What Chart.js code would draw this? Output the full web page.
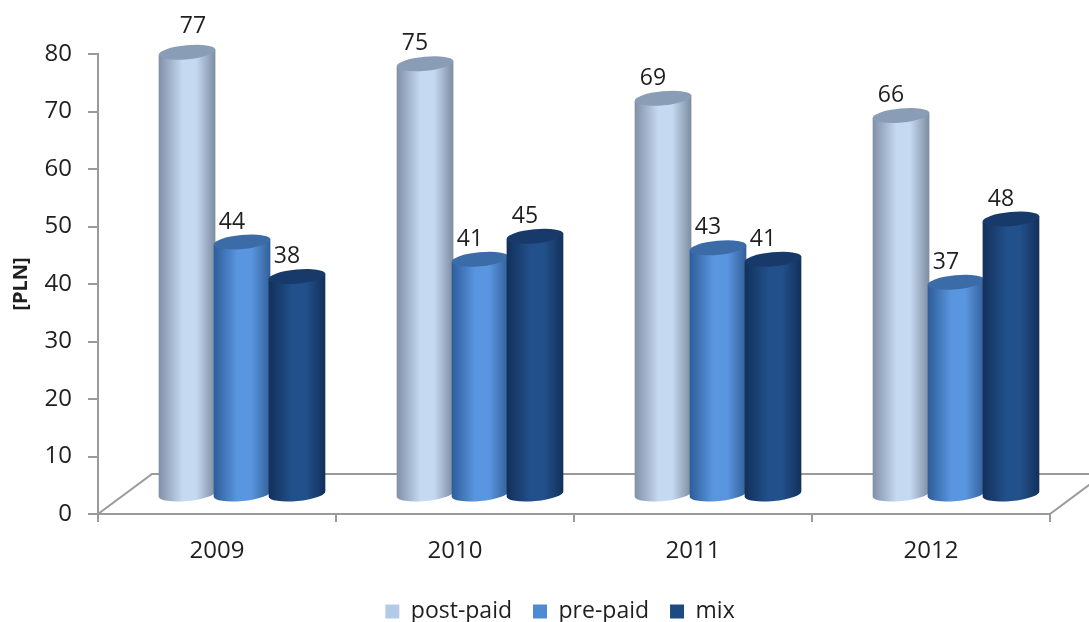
<!DOCTYPE html>
<html>
<head>
<meta charset="utf-8">
<style>html,body{margin:0;padding:0;background:#fff}canvas{display:block}</style>
<script src="https://cdn.jsdelivr.net/npm/chart.js@4"></script>
</head>
<body>
<canvas id="c" width="1089" height="622"></canvas>
<script>
const categories = ["2009", "2010", "2011", "2012"];
const postPaid = [77, 75, 69, 66];
const prePaid = [44, 41, 43, 37];
const mix = [38, 45, 41, 48];
const yTicks = [0, 10, 20, 30, 40, 50, 60, 70, 80];

const FONT = '"Open Sans", sans-serif';
const TEXT = '#1f1f1f';
const AXIS = '#9a9a9a';
const DX = 25, DY = 19;                 // 3D offset of bars from the front axis plane
const BACK_DX = 54, BACK_DY = 40;       // depth of the floor
const RY = 7, TILT = -5.5 * Math.PI / 180;

const looks = [
  {edgeL:'#7f8fa6', mid:'#c5d9f1', edgeR:'#7c8ca1', top:'#8a9db6'},
  {edgeL:'#2d5c99', mid:'#5a96e0', edgeR:'#335f99', top:'#3c6ca8'},
  {edgeL:'#12305a', mid:'#22508a', edgeR:'#12305a', top:'#183a6b'}
];

const cylinders = {
  id: 'cylinders',
  afterLayout(chart) {
    const lg = chart.legend;
    lg.top = 612 - 12 - lg.options.labels.padding;
    lg.left += 35;
    lg.right += 35;
  },
  beforeDatasetsDraw(chart) {
    const {ctx, scales:{x, y}} = chart;
    const y0 = y.getPixelForValue(0);
    ctx.save();
    ctx.strokeStyle = AXIS; ctx.lineWidth = 2;
    ctx.beginPath();
    ctx.moveTo(x.left, y0);
    ctx.lineTo(x.left + BACK_DX, y0 - BACK_DY);
    ctx.lineTo(x.right + BACK_DX, y0 - BACK_DY);
    ctx.lineTo(x.right, y0);
    ctx.stroke();
    ctx.restore();
  },
  beforeDatasetDraw() { return false; },
  afterDatasetsDraw(chart) {
    const ctx = chart.ctx;
    chart.data.datasets.forEach((ds, di) => {
      const look = looks[di];
      chart.getDatasetMeta(di).data.forEach(el => {
        const cx = el.x + DX, rx = el.width / 2 + 1;
        const topY = el.y - DY, baseY = el.base - DY;
        const ex = rx * Math.cos(TILT), ey = rx * Math.sin(TILT);
        const g = ctx.createLinearGradient(cx - rx, 0, cx + rx, 0);
        g.addColorStop(0, look.edgeL);
        g.addColorStop(0.42, look.mid);
        g.addColorStop(0.66, look.mid);
        g.addColorStop(1, look.edgeR);
        ctx.save();
        ctx.fillStyle = g;
        ctx.beginPath();
        ctx.moveTo(cx - ex, topY - ey);
        ctx.lineTo(cx - ex, baseY - ey);
        ctx.ellipse(cx, baseY, rx, RY, TILT, Math.PI, 0, true);
        ctx.lineTo(cx + ex, topY + ey);
        ctx.closePath();
        ctx.fill();
        ctx.fillStyle = look.top;
        ctx.beginPath();
        ctx.ellipse(cx, topY, rx, RY, TILT, 0, Math.PI * 2);
        ctx.fill();
        ctx.restore();
      });
    });
    ctx.save();
    ctx.font = '23px ' + FONT;
    ctx.fillStyle = TEXT;
    ctx.textAlign = 'center';
    ctx.textBaseline = 'middle';
    chart.data.datasets.forEach((ds, di) => {
      chart.getDatasetMeta(di).data.forEach((el, i) => {
        const first = di === 0 && i === 0;
        const lx = el.x + DX + (first ? 6 : -10);
        const ly = el.y - DY + (first ? -26 : -20);
        ctx.fillText(String(ds.data[i]), lx, ly);
      });
    });
    ctx.restore();
  }
};

new Chart(document.getElementById('c'), {
  type: 'bar',
  data: {
    labels: categories,
    datasets: [
      {label: 'post-paid', data: postPaid, backgroundColor: '#b4cbe7'},
      {label: 'pre-paid', data: prePaid, backgroundColor: '#4f8ad4'},
      {label: 'mix', data: mix, backgroundColor: '#1d4a82'}
    ]
  },
  plugins: [cylinders],
  options: {
    responsive: false,
    animation: false,
    events: [],
    layout: {padding: {top: 54, right: 39, left: 0, bottom: 0}},
    datasets: {bar: {barPercentage: 1, categoryPercentage: 0.693}},
    plugins: {
      tooltip: {enabled: false},
      legend: {
        position: 'bottom',
        labels: {
          color: TEXT,
          font: {family: FONT, size: 23},
          boxWidth: 14, boxHeight: 14,
          padding: 21
        }
      }
    },
    scales: {
      x: {
        afterFit(s) { s.height = 54; },
        offset: true,
        grid: {display: true, drawOnChartArea: false, drawTicks: true, tickLength: 8, color: AXIS, lineWidth: 2, offset: true},
        border: {display: true, color: AXIS, width: 2},
        ticks: {color: TEXT, font: {family: FONT, size: 24}, padding: 15, maxRotation: 0}
      },
      y: {
        afterFit(s) { s.width = 98; },
        min: 0, max: 80,
        afterBuildTicks(s) { s.ticks = yTicks.map(v => ({value: v})); },
        grid: {display: true, drawOnChartArea: false, drawTicks: true, tickLength: 10, color: AXIS, lineWidth: 2},
        border: {display: true, color: AXIS, width: 2},
        ticks: {color: TEXT, font: {family: FONT, size: 24}, padding: 16},
        title: {display: true, text: '[PLN]', color: TEXT, font: {family: FONT, size: 20, weight: 'bold'}, padding: {top: 9, bottom: 0}}
      }
    }
  }
});
</script>
</body>
</html>
